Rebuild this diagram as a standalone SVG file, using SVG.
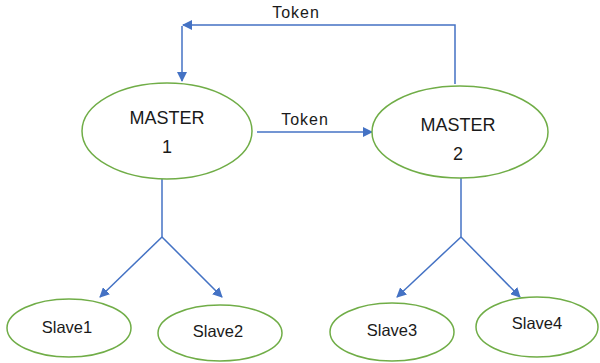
<svg xmlns="http://www.w3.org/2000/svg" width="600" height="363" viewBox="0 0 600 363">
<defs>
<marker id="ah" markerWidth="10" markerHeight="10" refX="9" refY="5" orient="auto" markerUnits="userSpaceOnUse">
<path d="M0,0 L10,5 L0,10 Z" fill="#4472C4"/>
</marker>
</defs>
<style>
.node{fill:#fff;stroke:#70AD47;stroke-width:1.5}
.lbl{font-family:"Liberation Sans",Arial,sans-serif;fill:#1a1a1a;text-anchor:middle}
.m{font-size:18px}
.s{font-size:16.5px}
.t{font-size:16px;letter-spacing:1px}
.c{fill:none;stroke:#4472C4;stroke-width:1.5}
</style>
<rect width="600" height="363" fill="#fff"/>
<g id="connectors">
<path class="c" d="M455,84 V25 H183" marker-end="url(#ah)"/>
<path class="c" d="M182,26 V81" marker-end="url(#ah)"/>
<path class="c" d="M257,132 H372" marker-end="url(#ah)"/>
<path class="c" d="M162,178 V237"/>
<path class="c" d="M162,237 L100,297" marker-end="url(#ah)"/>
<path class="c" d="M162,237 L222,297" marker-end="url(#ah)"/>
<path class="c" d="M461,178 V237"/>
<path class="c" d="M461,237 L397,297" marker-end="url(#ah)"/>
<path class="c" d="M461,237 L520,297" marker-end="url(#ah)"/>
<text class="lbl t" x="296" y="18">Token</text>
<text class="lbl t" x="305" y="125">Token</text>
</g>
<g id="master1">
<ellipse class="node" cx="167" cy="131" rx="85" ry="48"/>
<text class="lbl m" x="167" y="124">MASTER</text>
<text class="lbl m" x="167" y="153">1</text>
</g>
<g id="master2">
<ellipse class="node" cx="460" cy="132" rx="88" ry="46"/>
<text class="lbl m" x="458" y="131">MASTER</text>
<text class="lbl m" x="458" y="160">2</text>
</g>
<g id="slave1">
<ellipse class="node" cx="69" cy="328" rx="62" ry="29"/>
<text class="lbl s" x="67" y="333">Slave1</text>
</g>
<g id="slave2">
<ellipse class="node" cx="220" cy="333" rx="62" ry="28"/>
<text class="lbl s" x="218" y="337">Slave2</text>
</g>
<g id="slave3">
<ellipse class="node" cx="392" cy="332" rx="62" ry="29"/>
<text class="lbl s" x="392" y="336">Slave3</text>
</g>
<g id="slave4">
<ellipse class="node" cx="537" cy="327" rx="61" ry="30"/>
<text class="lbl s" x="537" y="329">Slave4</text>
</g>
</svg>
